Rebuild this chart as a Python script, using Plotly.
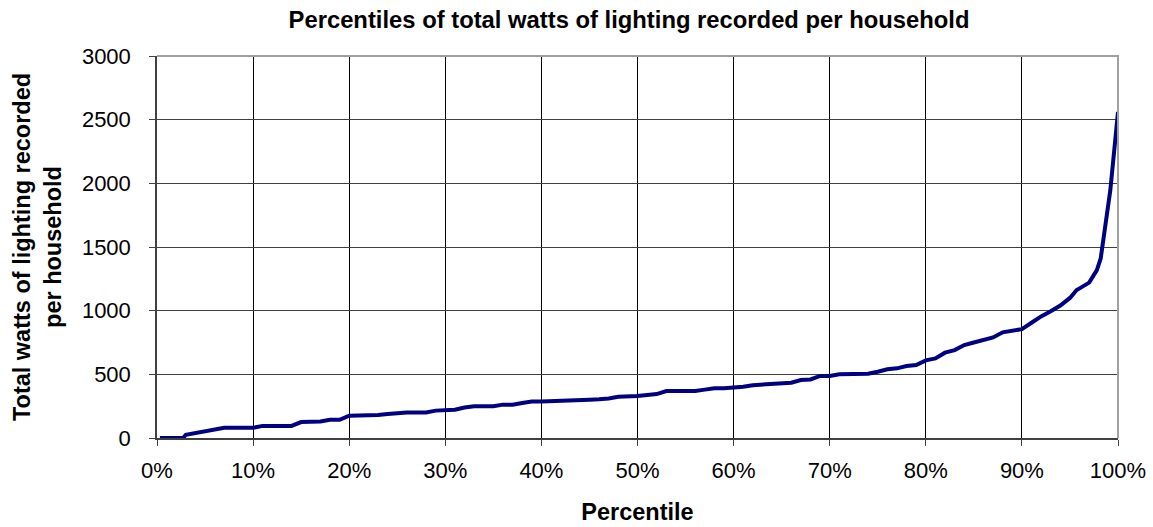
import plotly.graph_objects as go

# Percentile (x, in %) and total watts of lighting per household (y)
percentile = [0.3, 1, 2, 2.7, 3, 4, 5, 6, 7, 8, 9, 10,
              11, 12, 13, 14, 15, 16, 17, 18, 19, 20,
              21, 22, 23, 24, 25, 26, 27, 28, 29, 30,
              31, 32, 33, 34, 35, 36, 37, 38, 39, 40,
              41, 42, 43, 44, 45, 46, 47, 48, 49, 50,
              51, 52, 53, 54, 55, 56, 57, 58, 59, 60,
              61, 62, 63, 64, 65, 66, 67, 68, 69, 70,
              71, 72, 73, 74, 75, 76, 77, 78, 79, 80,
              81, 82, 83, 84, 85, 86, 87, 88, 89, 90,
              91, 92, 93, 94, 95, 95.7, 96, 97, 97.8, 98.2, 99.2, 100]
watts = [0, 0, 0, 0, 25, 40, 50, 65, 80, 80, 80, 80,
         95, 95, 95, 95, 125, 125, 130, 143, 143, 175,
         175, 175, 180, 188, 195, 201, 201, 201, 215, 222,
         222, 240, 249, 249, 249, 262, 262, 275, 286, 286,
         288, 290, 290, 292, 300, 304, 310, 324, 324, 330,
         338, 345, 369, 369, 369, 369, 380, 390, 390, 395,
         403, 415, 421, 421, 434, 434, 455, 460, 487, 487,
         500, 500, 500, 505, 520, 540, 547, 565, 573, 610,
         625, 670, 690, 730, 750, 772, 790, 830, 845, 855,
         905, 955, 995, 1040, 1100, 1162, 1175, 1220, 1318, 1410, 1945, 2560]

x_ticks = [0, 10, 20, 30, 40, 50, 60, 70, 80, 90, 100]
y_ticks = [0, 500, 1000, 1500, 2000, 2500, 3000]

FONT = "Liberation Sans, Arial, sans-serif"

fig = go.Figure()
fig.add_trace(go.Scatter(
    x=percentile, y=watts, mode="lines",
    line=dict(color="#000080", width=4),
    showlegend=False,
))

fig.update_layout(
    width=1153, height=527,
    margin=dict(l=157, r=35, t=56, b=89),
    paper_bgcolor="white", plot_bgcolor="white",
    font=dict(family=FONT, color="black", size=22),
    title=dict(
        text="<b>Percentiles of total watts of lighting recorded per household</b>",
        x=629 / 1153, xref="container", y=1 - 20 / 527, yref="container",
        xanchor="center", yanchor="middle",
        font=dict(family=FONT, size=23.8, color="black"),
    ),
    xaxis=dict(
        range=[0, 100], tickvals=x_ticks,
        ticktext=[f"{v}%" for v in x_ticks],
        showgrid=True, gridcolor="#000000", gridwidth=1,
        showline=True, linecolor="#404040", linewidth=1.5,
        ticks="outside", ticklen=6, tickcolor="#404040",
        tickfont=dict(size=22), ticklabelstandoff=6,
        zeroline=False, automargin=False,
        title=dict(text="<b>Percentile</b>", font=dict(size=23.5), standoff=21),
    ),
    yaxis=dict(
        range=[0, 3000], tickvals=y_ticks,
        showgrid=True, gridcolor="#404040", gridwidth=1,
        showline=True, linecolor="#404040", linewidth=1.5,
        ticks="outside", ticklen=6, tickcolor="#404040",
        tickfont=dict(size=22), ticklabelstandoff=14,
        zeroline=False, automargin=False,
        title=dict(text="<b>Total watts of lighting recorded<br>per household</b>",
                   font=dict(size=23.5), standoff=14),
    ),
    shapes=[dict(type="path", xref="paper", yref="paper",
                 path="M 0 1 L 1 1 L 1 0",
                 line=dict(color="#a0a0a0", width=2), layer="above")],
)

fig.write_html("out.html",
               config={"displayModeBar": False},
               post_script="document.body.style.margin='0';document.body.style.padding='0';")
